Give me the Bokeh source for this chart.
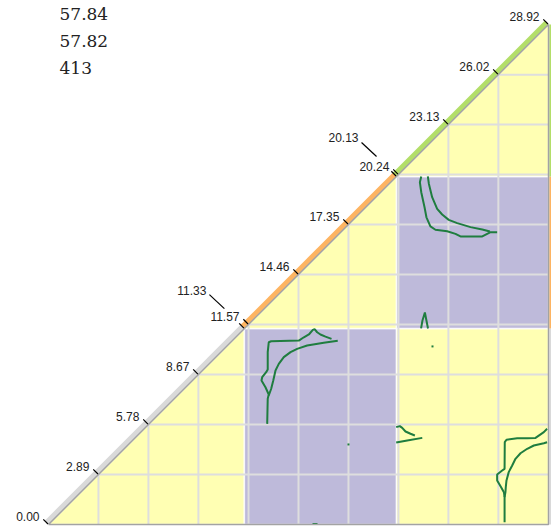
from bokeh.plotting import figure
from bokeh.models import Range1d
from bokeh.core.properties import value
from bokeh.embed import file_html
from bokeh.resources import INLINE

# ---------------- data ----------------
total_len = 28.92
tick_values = [0.00, 2.89, 5.78, 8.67, 11.57, 14.46, 17.35, 20.24, 23.13, 26.02, 28.92]
tick_labels = ["0.00", "2.89", "5.78", "8.67", "11.57", "14.46", "17.35", "20.24", "23.13", "26.02", "28.92"]
boundary_values = [11.33, 20.13]
boundary_labels = ["11.33", "20.13"]
seg_starts = [0.00, 11.33, 20.13]
seg_ends = [11.33, 20.13, 28.92]
seg_colors = ["#d9d9d9", "#fdb462", "#b3de69"]
header_lines = ["57.84", "57.82", "413"]

# contour lines (x, y in the same units as the diagonal)
contour_xs = [
    [12.65, 12.68, 12.74, 12.55, 12.32, 12.36, 12.59, 12.68, 12.68, 12.74, 12.88, 14.48, 14.77, 15.06,
     15.29, 15.39, 15.54, 15.73, 16.02, 16.37],
    [16.73, 15.92, 14.96, 14.38, 14.00, 13.61, 13.32, 13.13, 13.00, 12.88, 12.74],
    [21.56, 21.48, 21.56, 21.75, 21.86, 22.09, 22.38, 23.06, 23.54, 23.83, 25.09, 25.57, 25.95],
    [25.53, 25.09, 24.41, 23.64, 23.15, 22.77, 22.48, 22.19, 22.00, 21.94],
    [20.11, 20.32, 20.46, 20.65, 20.94, 21.19],
    [20.11, 20.75, 21.62],
    [28.84, 28.65, 28.17, 27.69, 27.11, 26.49, 26.39, 26.38, 26.24, 25.95, 25.95, 26.18, 26.34, 26.38, 26.38],
    [28.84, 28.65, 28.07, 27.69, 27.30, 27.01, 26.82, 26.62, 26.49, 26.45, 26.43, 26.38],
    [21.55, 21.63, 21.77, 21.86, 21.95],
    [15.27, 15.56],
]
contour_ys = [
    [5.82, 7.27, 7.52, 7.94, 8.33, 8.52, 8.81, 8.97, 9.97, 10.54, 10.60, 10.64, 10.83, 10.99,
     11.26, 11.30, 11.12, 10.99, 10.87, 10.74],
    [10.63, 10.51, 10.35, 10.16, 9.97, 9.68, 9.29, 8.91, 8.33, 7.85, 7.46],
    [20.13, 19.80, 19.22, 18.35, 17.77, 17.24, 17.05, 16.96, 16.81, 16.66, 16.66, 16.91, 16.91],
    [16.95, 17.06, 17.20, 17.43, 17.62, 17.93, 18.26, 18.93, 19.71, 20.13],
    [5.63, 5.69, 5.59, 5.38, 5.25, 5.15],
    [4.74, 4.86, 5.01],
    [5.54, 5.34, 5.01, 4.99, 4.99, 4.90, 4.76, 3.22, 3.12, 2.89, 2.55, 2.16, 1.87, 1.58, 0.13],
    [4.76, 4.70, 4.57, 4.38, 4.12, 3.80, 3.41, 3.03, 2.55, 2.16, 1.87, 1.58],
    [11.34, 11.80, 12.26, 11.80, 11.34],
    [0.03, 0.03],
]
dot_x = [22.21, 17.35]
dot_y = [10.30, 4.63]

block_colors = ["#ffffb3", "#bebada"]

# ---------------- figure ----------------
PX = 500.0 / total_len  # pixels per unit
def d(px):
    return px / PX

W, H = 551, 529
p = figure(width=W, height=H, output_backend="svg", toolbar_location=None,
           x_range=Range1d(d(0 - 48), d(W - 48)), y_range=Range1d(d(524 - H), d(524 - 0)),
           x_axis_location=None, y_axis_location=None, min_border=0)
p.grid.visible = False
p.outline_line_color = None
p.background_fill_color = "white"
p.border_fill_color = "white"

# blocks
bx, by, bc = [], [], []
n = len(seg_starts)
for i in range(n):
    for j in range(i, n):
        a0, a1 = seg_starts[j], seg_ends[j]
        b0, b1 = seg_starts[i], seg_ends[i]
        if i == j:
            bx.append([a0, a1, a1]); by.append([a0, a0, a1])
        else:
            bx.append([a0, a1, a1, a0]); by.append([b0, b0, b1, b1])
        bc.append(block_colors[(j - i) % 2])
p.patches(bx, by, fill_color=bc, line_color="white", line_width=1.5, line_alpha=0.8)

# grid inside the triangle
gx, gy = [], []
for v in tick_values[1:-1]:
    gx.append([v, v]); gy.append([0, v])
    gx.append([v, total_len]); gy.append([v, v])
p.multi_line(gx, gy, line_color="#dedede", line_width=2)

# contours
p.multi_line(contour_xs, contour_ys, line_color="#1f7d3f", line_width=2)
p.rect(dot_x, dot_y, width=d(2), height=d(2), fill_color="#1f7d3f", line_color=None)

# diagonal colored band and right strip
off = d(3.8)
band_x, band_y, strip_x, strip_y = [], [], [], []
for a, b in zip(seg_starts, seg_ends):
    band_x.append([a, b, b - off, a - off]); band_y.append([a, b, b + off, a + off])
    strip_x.append([total_len + d(0.8), total_len + d(3.5), total_len + d(3.5), total_len + d(0.8)])
    strip_y.append([a, a, b, b])
p.patches(band_x, band_y, fill_color=seg_colors, line_color=None)
p.patches(strip_x, strip_y, fill_color=seg_colors, line_color=None)

# triangle frame
p.line([0, total_len, total_len, 0], [0, total_len, 0, 0], line_color="#a3a3a3", line_width=1.5)

# ticks
all_ticks = tick_values + boundary_values
p.segment(x0=[v - d(0.5) for v in all_ticks], y0=[v + d(0.5) for v in all_ticks],
          x1=[v - d(5.2) for v in all_ticks], y1=[v + d(5.2) for v in all_ticks],
          line_color="black", line_width=1.2)

# tick labels
p.text(x=[v - d(9) for v in tick_values], y=[v + d(8) for v in tick_values], text=tick_labels,
       text_font=value("Liberation Sans"), text_font_size="12px", text_color="#222222",
       text_align="right", text_baseline="alphabetic")
p.text(x=[v - d(38) for v in boundary_values], y=[v + d(38.5) for v in boundary_values], text=boundary_labels,
       text_font=value("Liberation Sans"), text_font_size="12px", text_color="#222222",
       text_align="right", text_baseline="alphabetic")
p.segment(x0=[v - d(35) for v in boundary_values], y0=[v + d(34) for v in boundary_values],
          x1=[v - d(20) for v in boundary_values], y1=[v + d(20) for v in boundary_values],
          line_color="black", line_width=1.2)

# header text
p.text(x=[d(59 - 48)] * 3, y=[d(524 - 13), d(524 - 40), d(524 - 67)], text=header_lines,
       text_font=value("DejaVu Serif"), text_font_size="17px", text_color="#222222",
       text_align="left", text_baseline="alphabetic")

open("out.html", "w").write(file_html(p, INLINE))
